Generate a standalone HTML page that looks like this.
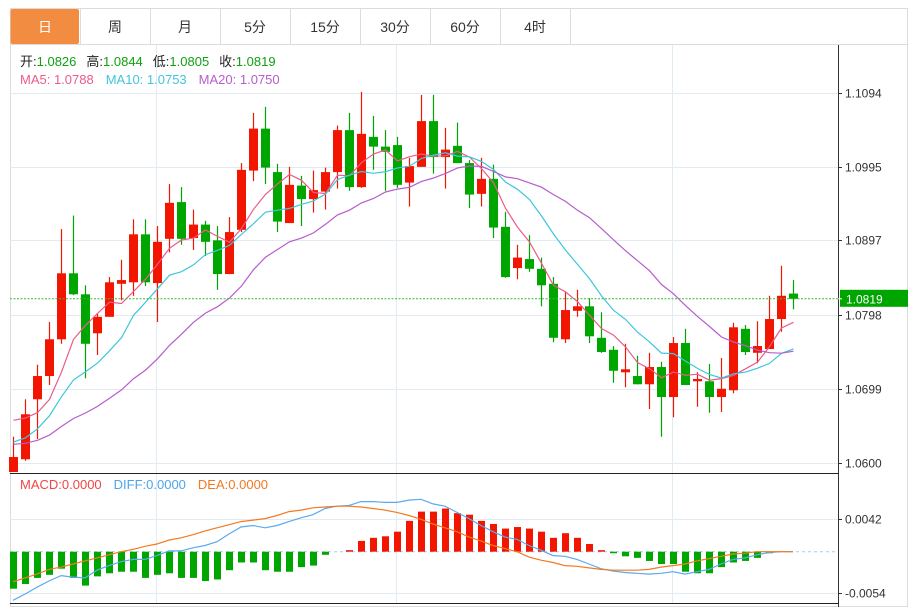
<!DOCTYPE html>
<html><head><meta charset="utf-8"><style>
html,body{margin:0;padding:0;background:#fff;width:918px;height:607px;overflow:hidden;font-family:"Liberation Sans","Noto Sans CJK SC",sans-serif}
svg{display:block}
</style></head><body>
<svg id="chart" width="918" height="607" viewBox="0 0 918 607" xmlns="http://www.w3.org/2000/svg" font-family="Liberation Sans, Noto Sans CJK SC, sans-serif">
<rect x="0" y="0" width="918" height="607" fill="#fff"/>
<g id="tabs"></g>
<g id="grid"></g>
<g id="marks"></g>
<g id="macd"></g>
<g id="axes"></g>
<g id="legend" font-size="13">
<text x="20" y="66"><tspan fill="#222">开:</tspan><tspan fill="#10a010">1.0826</tspan><tspan fill="#222" dx="10">高:</tspan><tspan fill="#10a010">1.0844</tspan><tspan fill="#222" dx="10">低:</tspan><tspan fill="#10a010">1.0805</tspan><tspan fill="#222" dx="10">收:</tspan><tspan fill="#10a010">1.0819</tspan></text>
<text x="20" y="84"><tspan fill="#ec5b8c">MA5: 1.0788</tspan><tspan fill="#3ec6dc" dx="12">MA10: 1.0753</tspan><tspan fill="#b75ccc" dx="12">MA20: 1.0750</tspan></text>
<text x="20" y="489"><tspan fill="#f04545">MACD:0.0000</tspan><tspan fill="#4ea4ec" dx="12">DIFF:0.0000</tspan><tspan fill="#f07a24" dx="12">DEA:0.0000</tspan></text>
</g>
</svg>
<script>
const opens=[1.0588,1.0605,1.0685,1.0716,1.0765,1.0853,1.0825,1.0773,1.0795,1.0839,1.0841,1.0905,1.0840,1.0899,1.0948,1.0900,1.0918,1.0897,1.0852,1.0911,1.0990,1.1046,1.0988,1.0920,1.0970,1.0952,1.0962,1.0988,1.1044,1.0968,1.1035,1.1022,1.1024,1.0974,1.0995,1.1056,1.1008,1.1023,1.1000,1.0959,1.0979,1.0915,1.0860,1.0872,1.0859,1.0839,1.0765,1.0803,1.0809,1.0767,1.0751,1.0721,1.0716,1.0705,1.0728,1.0688,1.0760,1.0709,1.0709,1.0688,1.0697,1.0779,1.0747,1.0752,1.0792,1.0826];
const closes=[1.0608,1.0665,1.0716,1.0765,1.0853,1.0825,1.0759,1.0795,1.0841,1.0844,1.0905,1.0841,1.0895,1.0947,1.0899,1.0918,1.0895,1.0852,1.0908,1.0991,1.1046,1.0994,1.0922,1.0971,1.0952,1.0964,1.0988,1.1044,1.0968,1.1039,1.1022,1.1015,1.0971,1.0996,1.1056,1.1008,1.1018,1.1000,1.0958,1.0979,1.0914,1.0848,1.0874,1.0859,1.0837,1.0767,1.0804,1.0809,1.0769,1.0748,1.0723,1.0725,1.0705,1.0728,1.0688,1.0760,1.0704,1.0712,1.0688,1.0699,1.0781,1.0748,1.0756,1.0792,1.0823,1.0819];
const highs=[1.0635,1.0685,1.0731,1.0788,1.0912,1.0930,1.0837,1.0800,1.0848,1.0871,1.0925,1.0925,1.0916,1.0972,1.0968,1.0938,1.0923,1.0916,1.0928,1.1000,1.1067,1.1075,1.0999,1.0995,1.0983,1.0990,1.0994,1.1050,1.1067,1.1095,1.1063,1.1044,1.1035,1.1007,1.1091,1.1091,1.1047,1.1054,1.1004,1.1007,1.0998,1.0935,1.0891,1.0904,1.0874,1.0848,1.0828,1.0831,1.0820,1.0801,1.0756,1.0759,1.0743,1.0747,1.0735,1.0768,1.0779,1.0721,1.0732,1.0740,1.0787,1.0784,1.0789,1.0823,1.0863,1.0844];
const lows=[1.0587,1.0603,1.0632,1.0704,1.0759,1.0824,1.0713,1.0744,1.0795,1.0817,1.0823,1.0836,1.0788,1.0881,1.0891,1.0884,1.0876,1.0831,1.0852,1.0908,1.0976,1.0972,1.0908,1.0920,1.0916,1.0934,1.0938,1.0966,1.0963,1.0967,1.0991,1.0963,1.0967,1.0942,1.0995,1.0986,1.0966,1.1000,1.0940,1.0942,1.0900,1.0847,1.0845,1.0855,1.0809,1.0761,1.0760,1.0795,1.0760,1.0747,1.0707,1.0701,1.0705,1.0672,1.0635,1.0661,1.0704,1.0675,1.0667,1.0668,1.0693,1.0744,1.0733,1.0752,1.0775,1.0805];
const priorCloses=[1.0640,1.0635,1.0628,1.0620,1.0615,1.0612,1.0618,1.0625,1.0620,1.0607,1.0610,1.0595,1.0590,1.0600,1.0600,1.0650,1.0680,1.0677,1.0670];
const diffVals=[-0.0063,-0.0055,-0.0046,-0.0038,-0.0031,-0.0033,-0.0034,-0.0024,-0.0018,-0.0013,-0.0010,-0.0010,-0.0005,0.0001,0.0001,0.0005,0.0008,0.0013,0.0023,0.0032,0.0034,0.0031,0.0034,0.0039,0.0044,0.0048,0.0056,0.0059,0.0060,0.0065,0.0065,0.0064,0.0064,0.0067,0.0068,0.0062,0.0059,0.0051,0.0043,0.0034,0.0026,0.0019,0.0016,0.0008,0.0002,-0.0005,-0.0006,-0.0010,-0.0016,-0.0022,-0.0025,-0.0027,-0.0028,-0.0029,-0.0028,-0.0026,-0.0029,-0.0026,-0.0023,-0.0016,-0.0010,-0.0008,-0.0004,-0.0001,0.0000,0.0000];
const deaVals=[-0.0039,-0.0034,-0.0029,-0.0023,-0.0020,-0.0016,-0.0012,-0.0008,-0.0004,0.0000,0.0003,0.0007,0.0010,0.0015,0.0018,0.0022,0.0027,0.0031,0.0035,0.0039,0.0041,0.0043,0.0047,0.0052,0.0054,0.0057,0.0058,0.0059,0.0059,0.0058,0.0056,0.0054,0.0051,0.0047,0.0042,0.0036,0.0031,0.0026,0.0019,0.0014,0.0008,0.0004,0.0000,-0.0007,-0.0011,-0.0014,-0.0018,-0.0019,-0.0021,-0.0023,-0.0024,-0.0024,-0.0024,-0.0023,-0.0020,-0.0018,-0.0016,-0.0012,-0.0009,-0.0006,-0.0003,-0.0002,0.0000,0.0000,0.0000,0.0000];
const priceTicks=[1.1094,1.0995,1.0897,1.0798,1.0699,1.0600];
const macdTicks=[0.0042,-0.0054];
const tabLabels=["日","周","月","5分","15分","30分","60分","4时"];
const lastPrice=1.0819;

const NS="http://www.w3.org/2000/svg";
function mk(tag,attrs,parent,text){const e=document.createElementNS(NS,tag);for(const k in attrs)e.setAttribute(k,attrs[k]);if(text!==undefined)e.textContent=text;parent.appendChild(e);return e;}
const xC=i=>13+12*i;
const yP=p=>463-(p-1.06)*7497.5;
const yM=v=>551.7-v*7708;
const UP="#f21500",DN="#00a600";

// tabs
const tabs=document.getElementById('tabs');
let fr=mk('rect',{x:10.5,y:8.5,width:897,height:598,fill:'none',stroke:'#dcdcdc'},tabs);


let tl=mk('line',{x1:10,y1:44.5,x2:908,y2:44.5,stroke:'#dcdcdc'},tabs);


tabLabels.forEach((t,i)=>{
  const x=10+70*i;
  const g=mk('g',{},tabs);
  
  
  if(i===0){mk('rect',{x:x+0.5,y:9,width:68.5,height:35,rx:2,fill:'#f28c40'},g);}
  mk('line',{x1:x+70.5,y1:9,x2:x+70.5,y2:44,stroke:'#dcdcdc'},g);
  mk('text',{x:x+35,y:32,'text-anchor':'middle','font-size':14,fill:i===0?'#fff':'#333'},g,t);
});

// grid
const grid=document.getElementById('grid');
[156.5,396.5,672.5].forEach(x=>{const l=mk('line',{x1:x,y1:45,x2:x,y2:603,stroke:'#e2eaf2'},grid);

});
priceTicks.forEach(p=>{const y=Math.round(yP(p))+0.5;const l=mk('line',{x1:10,y1:y,x2:838,y2:y,stroke:'#e2eaf2'},grid);

});
macdTicks.forEach(v=>{const y=Math.round(yM(v))+0.5;const l=mk('line',{x1:10,y1:y,x2:838,y2:y,stroke:'#e2eaf2'},grid);

});

// candles
const marks=document.getElementById('marks');
opens.forEach((o,i)=>{
  const c=closes[i],h=highs[i],l=lows[i];
  const col=c>=o?UP:DN;
  const x=xC(i);
  const g=mk('g',{},marks);
  
  
  mk('line',{x1:x+0.5,y1:yP(h),x2:x+0.5,y2:Math.min(yP(l),472),stroke:col,'stroke-width':1.2},g);
  const top=yP(Math.max(o,c)),bot=Math.min(yP(Math.min(o,c)),472);
  mk('rect',{x:x-4,y:top,width:9,height:Math.max(bot-top,2),fill:col},g);
});
// moving averages
const all=priorCloses.concat(closes);
function ma(n){return closes.map((_,i)=>{const j=i+priorCloses.length;let s=0;for(let k=j-n+1;k<=j;k++)s+=all[k];return s/n;});}
[[5,'#ec5b8c','ma5-line'],[10,'#3ec6dc','ma10-line'],[20,'#b75ccc','ma20-line']].forEach(([n,col,name])=>{
  const pts=ma(n).map((v,i)=>xC(i)+0.5+','+yP(v).toFixed(1)).join(' ');
  const pl=mk('polyline',{points:pts,fill:'none',stroke:col,'stroke-width':1.2},marks);
  
  
});
// last price line
const lp=mk('line',{x1:10,y1:yP(lastPrice),x2:838,y2:yP(lastPrice),stroke:'#3cb83c','stroke-dasharray':'2,1.5','stroke-width':1},marks);



// macd
const macd=document.getElementById('macd');
const zl=mk('line',{x1:10,y1:yM(0),x2:838,y2:yM(0),stroke:'#a8cce8','stroke-dasharray':'3,3'},macd);


diffVals.forEach((d,i)=>{
  const h=2*(d-deaVals[i]);
  if(Math.abs(h)<0.00004)return;
  const y0=yM(0),y1=yM(h);
  const r=mk('rect',{x:xC(i)-3,y:Math.min(y0,y1),width:7,height:Math.abs(y1-y0),fill:h>0?UP:DN},macd);
  
  
});
const dl=mk('polyline',{points:diffVals.map((v,i)=>xC(i)+','+yM(v).toFixed(1)).join(' '),fill:'none',stroke:'#5aaaf0','stroke-width':1.2},macd);


const el=mk('polyline',{points:deaVals.map((v,i)=>xC(i)+','+yM(v).toFixed(1)).join(' '),fill:'none',stroke:'#f47a20','stroke-width':1.2},macd);



// axes
const axes=document.getElementById('axes');
let a=mk('line',{x1:838.5,y1:45,x2:838.5,y2:607,stroke:'#333'},axes);


a=mk('line',{x1:10,y1:473.5,x2:839,y2:473.5,stroke:'#222'},axes);


a=mk('line',{x1:10,y1:603.5,x2:839,y2:603.5,stroke:'#222'},axes);


priceTicks.forEach(p=>{const y=Math.round(yP(p))+0.5;
  mk('line',{x1:838,y1:y,x2:842,y2:y,stroke:'#333'},axes);
  const t=mk('text',{x:845,y:y+4,'font-size':12,fill:'#333'},axes,p.toFixed(4));
  
  });
macdTicks.forEach(v=>{const y=Math.round(yM(v))+0.5;
  mk('line',{x1:838,y1:y,x2:842,y2:y,stroke:'#333'},axes);
  const t=mk('text',{x:845,y:y+4,'font-size':12,fill:'#333'},axes,v.toFixed(4));
  
  });
const ly=yP(lastPrice);
const bx=mk('rect',{x:840,y:ly-9,width:68,height:17,fill:'#00a600'},axes);


mk('line',{x1:838,y1:ly,x2:842,y2:ly,stroke:'#fff'},axes);
const bt=mk('text',{x:846,y:ly+4.5,'font-size':12,fill:'#fff'},axes,lastPrice.toFixed(4));


</script>
</body></html>
